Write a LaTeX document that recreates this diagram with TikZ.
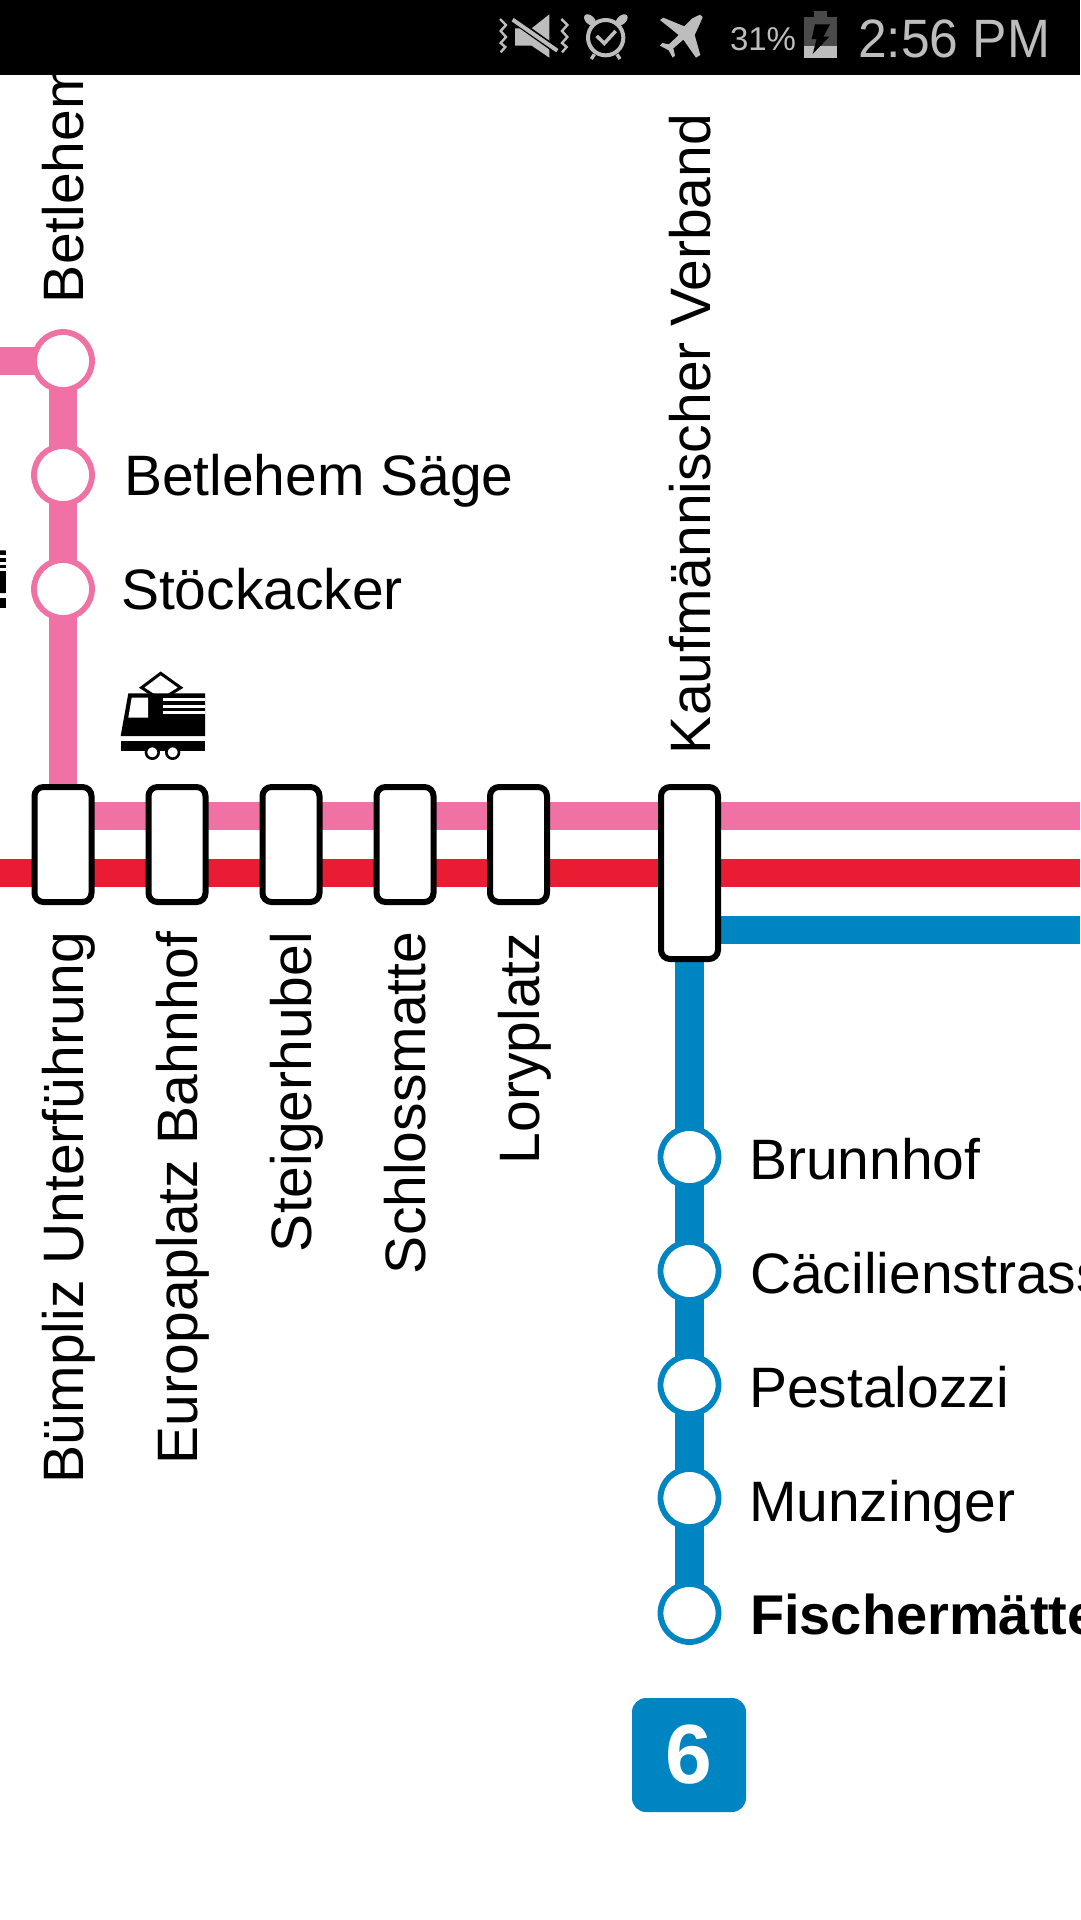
\documentclass[tikz,border=0pt]{standalone}
\usepackage{fontspec}
\setmainfont{Liberation Sans}
\newfontfamily\stfont[FakeStretch=0.955]{Liberation Sans}
\usetikzlibrary{backgrounds}
\definecolor{pinkl}{HTML}{F071A3}
\definecolor{redl}{HTML}{E91C34}
\definecolor{bluel}{HTML}{0085C3}
\definecolor{barg}{HTML}{BDBDBD}
\definecolor{batd}{HTML}{4A4A4A}
\tikzset{
  lbl/.style={inner sep=0pt,outer sep=0pt,anchor=base west,text=black,font=\fontsize{57}{60}\selectfont},
  vlbl/.style={lbl,rotate=90},
  stn/.style={circle,draw=#1,line width=5.8pt,fill=white,minimum size=58pt,inner sep=0pt},
  stopbox/.style={rectangle,draw=black,line width=6pt,fill=white,rounded corners=9pt,minimum width=57pt,minimum height=#1,inner sep=0pt},
  tline/.style={draw=#1,line width=28.5pt,line cap=butt},
  sttext/.style={inner sep=0pt,outer sep=0pt,anchor=base west,text=barg},
  train/.pic={
    \begin{scope}[scale=1/3]
      \draw[black,line width=3pt,fill=white,line join=miter] (152,25) -- (212,68) -- (152,105) -- (95,68) -- cycle;
      \fill[black] (55,85) -- (285,85) -- (285,213) -- (32,213) -- cycle;
      \fill[white] (65,98) -- (114,98) -- (114,158) -- (55,158) -- cycle;
      \fill[white] (158,99) rectangle (285,108);
      \fill[white] (158,119) rectangle (285,129);
      \fill[white] (158,138) rectangle (285,147);
      \fill[black] (32,227) rectangle (285,258);
      \draw[black,line width=2.6pt,fill=white] (127,262) circle (19);
      \draw[black,line width=2.6pt,fill=white] (188,262) circle (19);
    \end{scope}
  }
}
\begin{document}
\begin{tikzpicture}[x=1pt,y=-1pt]
\useasboundingbox (0,0) rectangle (1080,1920);
% free line ends
\coordinate (pinkW) at (0,361);
\coordinate (pinkE) at (1080,816);
\coordinate (redW) at (0,873);
\coordinate (redE) at (1080,873);
\coordinate (blueE) at (1080,930);
% stations on the pink branch
\node[stn=pinkl] (bet) at (63,361) {};
\node[stn=pinkl] (saege) at (63,475) {};
\node[stn=pinkl] (stoeck) at (63,589) {};
% interchange boxes
\node[stopbox=115pt] (buem) at (63,844.5) {};
\node[stopbox=115pt] (euro) at (177,844.5) {};
\node[stopbox=115pt] (steig) at (291,844.5) {};
\node[stopbox=115pt] (schl) at (405,844.5) {};
\node[stopbox=115pt] (lory) at (518.5,844.5) {};
\node[stopbox=172pt] (kauf) at (689.5,873) {};
% blue branch
\node[stn=bluel] (brunn) at (689.5,1157) {};
\node[stn=bluel] (caec) at (689.5,1271) {};
\node[stn=bluel] (pest) at (689.5,1385) {};
\node[stn=bluel] (munz) at (689.5,1498) {};
\node[stn=bluel] (fisch) at (689.5,1613) {};
% lines
\begin{scope}[on background layer]
  \fill[white] (0,0) rectangle (1080,1920);
  \draw[tline=pinkl] (pinkW) -- (bet.center);
  \draw[tline=pinkl] (bet.center) -- (buem.center);
  \draw[tline=pinkl] (buem.center |- pinkE) -- (pinkE);
  \draw[tline=redl] (redW) -- (redE);
  \draw[tline=bluel] (kauf.center |- blueE) -- (blueE);
  \draw[tline=bluel] (kauf.center) -- (fisch.center);
\end{scope}
% labels
\node[vlbl] (tbet) at (83,303) {Betlehem};
\node[lbl] (tsaege) at (124,495) {Betlehem Säge};
\node[lbl] (tstoeck) at (121,609) {Stöckacker};
\node[vlbl] (tbuem) at (83,1483) {Bümpliz Unterführung};
\node[vlbl] (teuro) at (197,1464) {Europaplatz Bahnhof};
\node[vlbl] (tsteig) at (311,1252) {Steigerhubel};
\node[vlbl] (tschl) at (425,1274) {Schlossmatte};
\node[vlbl] (tlory) at (539,1164) {Loryplatz};
\node[vlbl] (tkauf) at (710,754) {Kaufmännischer Verband};
\node[lbl] (tbrunn) at (749,1179) {Brunnhof};
\node[lbl] (tcaec) at (750,1293) {Cäcilienstrasse};
\node[lbl] (tpest) at (749,1407) {Pestalozzi};
\node[lbl] (tmunz) at (749,1521) {Munzinger};
\node[lbl,font=\fontsize{56}{60}\selectfont\bfseries] (tfisch) at (750,1634) {Fischermätte};
% route badge
\node[rectangle,fill=bluel,rounded corners=14pt,minimum size=114pt,inner sep=0pt,text=white,font=\fontsize{84}{84}\selectfont\bfseries] (badge) at (689,1755) {6};
% trains
\pic at (110,665) {train};
\pic at (-89,522) {train};
% status bar
\fill[black] (0,0) rectangle (1080,75);
\begin{scope}[shift={(490,5)},scale=1/3]
  % muted-vibrate icon
  \fill[barg] (75,70) -- (125,70) -- (178,28) -- (178,158) -- (125,122) -- (75,122) -- cycle;
  \draw[black,line width=7pt] (62,38) -- (206,140);
  \draw[barg,line width=4pt] (68,44) -- (202,137);
  \draw[barg,line width=2.4pt] (30,42) -- (48,60) -- (32,78) -- (48,96) -- (32,114) -- (46,126) -- (32,142);
  \draw[barg,line width=2.4pt] (214,42) -- (232,60) -- (216,78) -- (232,96) -- (216,114) -- (230,126) -- (216,142);
  % alarm icon
  \draw[barg,line width=4pt] (347,98) circle (53);
  \draw[barg,line width=3.6pt] (320,93) -- (343,115) -- (377,78);
  \fill[barg,rotate around={-42:(300,45)}] (300,45) ellipse (21 and 13);
  \fill[barg,rotate around={42:(395,45)}] (395,45) ellipse (21 and 13);
  \draw[barg,line width=3.4pt] (313,148) -- (304,162);
  \draw[barg,line width=3.4pt] (381,148) -- (390,162);
  % plane icon
  \fill[barg] (638,36) -- (630,29) -- (607,40) -- (583,64) -- (520,38) -- (510,45) -- (566,90) -- (537,118) -- (517,114) -- (510,122) -- (536,136) -- (548,158) -- (555,152) -- (550,130) -- (580,104) -- (618,158) -- (631,150) -- (614,90) -- (628,60) -- cycle;
\end{scope}
\begin{scope}[shift={(720,5)},scale=1/3]
  % battery icon
  \fill[batd] (283,18) rectangle (320,37);
  \fill[batd] (253,37) rectangle (350,123);
  \fill[barg] (253,123) rectangle (350,160);
  \fill[black] (285,58) -- (330,58) -- (310,95) -- (328,95) -- (278,147) -- (290,102) -- (275,102) -- cycle;
\end{scope}
\node[sttext,font=\fontsize{33}{34}\selectfont] (pct) at (730,50) {31\%};
\node[sttext,font=\stfont\fontsize{54}{56}\selectfont] (clock) at (858,57) {2:56 PM};
\end{tikzpicture}
\end{document}
